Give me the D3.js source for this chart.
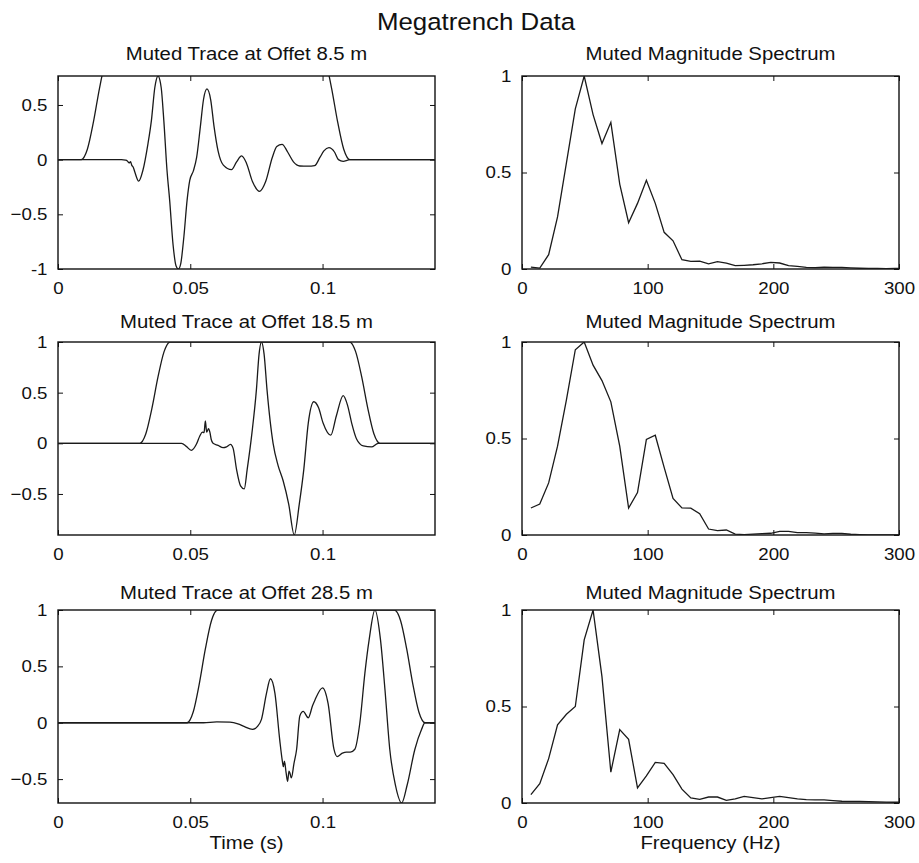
<!DOCTYPE html>
<html>
<head>
<meta charset="utf-8">
<script src="https://cdn.jsdelivr.net/npm/d3@7"></script>
<style>
  body { margin: 0; background: #fff; }
  svg { display: block; }
  text { font-family: "Liberation Sans", Arial, Helvetica, sans-serif; fill: #111; }
  .box { fill: none; stroke: #111; stroke-width: 1.4; }
  .tick line { stroke: #111; stroke-width: 1; }
  .trace { fill: none; stroke: #1a1a1a; stroke-width: 1.3; }
</style>
</head>
<body>
<div id="chart"></div>
<script>
// ---- data ----
var mainTitle = "Megatrench Data";
var traceTitles = ["Muted Trace at Offet 8.5 m", "Muted Trace at Offet 18.5 m", "Muted Trace at Offet 28.5 m"];
var specTitle = "Muted Magnitude Spectrum";

var timeTicks = [0, 0.05, 0.1];
var freqTicks = [0, 100, 200, 300];
var specYTicks = [0, 0.5, 1];
var traceYTicks = [[-1, -0.5, 0, 0.5], [-0.5, 0, 0.5, 1], [-0.5, 0, 0.5, 1]];
var traceYRange = [[-1, 0.765], [-0.905, 1], [-0.712, 1]];
var timeRange = [0, 0.1425];

// muted traces [time (s), amplitude]
var trace1 = [[0,0],[0.024,0],[0.0255,-0.005],[0.0262,-0.012],[0.0269,-0.03],[0.0274,-0.018],[0.0279,-0.052],
  [0.0284,-0.067],[0.029,-0.11],[0.0305,-0.197],[0.0321,-0.097],[0.034,0.145],[0.0353,0.357],[0.0366,0.66],
  [0.0378,0.765],[0.039,0.66],[0.04,0.357],[0.0412,-0.097],[0.0422,-0.37],[0.0435,-0.78],[0.0446,-0.97],
  [0.0455,-1.0],[0.0464,-0.95],[0.0476,-0.7],[0.0488,-0.37],[0.0498,-0.19],[0.0512,-0.1],[0.0524,0.02],
  [0.0538,0.3],[0.055,0.55],[0.0563,0.647],[0.0577,0.55],[0.059,0.3],[0.0605,0.08],[0.0625,-0.05],
  [0.0656,-0.091],[0.0675,-0.02],[0.0694,0.034],[0.0712,-0.03],[0.0735,-0.2],[0.0762,-0.29],[0.0785,-0.2],
  [0.081,0.02],[0.0827,0.12],[0.0847,0.14],[0.0868,0.07],[0.089,-0.02],[0.0914,-0.058],[0.0945,-0.06],
  [0.097,-0.055],[0.099,0.02],[0.1005,0.08],[0.1024,0.11],[0.1045,0.07],[0.106,0],[0.1078,-0.015],
  [0.1095,-0.005],[0.1103,0],[0.1425,0]];
var trace2 = [[0,0],[0.0467,0],[0.0485,-0.03],[0.0504,-0.07],[0.0523,-0.01],[0.0536,0.072],[0.0546,0.11],
  [0.0552,0.105],[0.0557,0.22],[0.0562,0.11],[0.0569,0.145],[0.0574,0.11],[0.0579,0.04],[0.0586,0],
  [0.0605,-0.02],[0.0624,-0.043],[0.0637,-0.035],[0.0652,-0.01],[0.0662,-0.05],[0.0675,-0.26],[0.069,-0.42],
  [0.0704,-0.45],[0.0715,-0.26],[0.0733,0.1],[0.075,0.53],[0.076,0.88],[0.0769,1.0],[0.0779,0.88],
  [0.079,0.53],[0.0813,0],[0.0832,-0.22],[0.0851,-0.37],[0.0872,-0.6],[0.0893,-0.905],[0.0912,-0.6],
  [0.0929,-0.26],[0.0946,0.2],[0.0967,0.41],[0.0985,0.35],[0.1002,0.2],[0.1031,0.08],[0.1052,0.27],
  [0.1078,0.47],[0.1095,0.37],[0.111,0.2],[0.1129,0.04],[0.1154,-0.026],[0.1185,-0.036],[0.121,0],[0.1425,0]];
var trace3 = [[0,0],[0.055,0],[0.06,0.008],[0.065,0.005],[0.068,-0.01],[0.0705,-0.035],[0.0735,-0.059],
  [0.0755,-0.03],[0.0769,0.03],[0.0788,0.26],[0.0803,0.39],[0.082,0.26],[0.0838,-0.15],[0.0848,-0.34],
  [0.0852,-0.39],[0.0856,-0.34],[0.0862,-0.44],[0.0868,-0.52],[0.0873,-0.43],[0.0877,-0.45],[0.0882,-0.49],
  [0.0892,-0.36],[0.0902,-0.235],[0.0914,0.06],[0.0927,0.1],[0.0946,0.044],[0.0962,0.15],[0.0971,0.2],
  [0.1,0.31],[0.1021,0.17],[0.1043,-0.235],[0.1055,-0.3],[0.1075,-0.27],[0.109,-0.26],[0.1105,-0.26],
  [0.1122,-0.235],[0.1141,0],[0.116,0.44],[0.1176,0.735],[0.1198,1.0],[0.1219,0.735],[0.1236,0.29],
  [0.1254,-0.235],[0.1275,-0.55],[0.1299,-0.712],[0.132,-0.55],[0.1349,-0.235],[0.1374,-0.06],[0.1387,0],[0.1425,0]];

// mute tapers drawn over each trace
var mute1 = [[0,0],[0.0088,0],[0.0111,0.095],[0.0134,0.345],[0.0157,0.655],[0.018,0.905],[0.0203,1],
  [0.0988,1],[0.1011,0.905],[0.1034,0.655],[0.1057,0.345],[0.108,0.095],[0.1103,0],[0.1425,0]];
var mute2 = [[0,0],[0.0309,0],[0.0332,0.095],[0.0355,0.345],[0.0378,0.655],[0.0401,0.905],[0.0424,1],
  [0.1102,1],[0.1125,0.905],[0.1148,0.655],[0.1171,0.345],[0.1194,0.095],[0.1217,0],[0.1425,0]];
var mute3 = [[0,0],[0.0488,0],[0.0511,0.095],[0.0534,0.345],[0.0557,0.655],[0.058,0.905],[0.0603,1],
  [0.1272,1],[0.1295,0.905],[0.1318,0.655],[0.1341,0.345],[0.1364,0.095],[0.1387,0],[0.1425,0]];

// magnitude spectra
var freqs = [7.07,14.14,21.21,28.28,35.35,42.42,49.49,56.56,63.63,70.7,77.77,84.84,91.91,98.98,106.05,
  113.12,120.19,127.26,134.33,141.4,148.47,155.54,162.61,169.68,176.75,183.82,190.89,197.96,205.03,212.1,
  219.17,226.24,233.31,240.38,247.45,254.52,261.59,268.66,275.73,282.8,289.87,296.94,304.01];
var spec1 = [0.01,0.005,0.074,0.27,0.55,0.83,1.0,0.8,0.65,0.76,0.44,0.24,0.34,0.46,0.34,0.19,0.146,0.048,
  0.04,0.041,0.027,0.038,0.031,0.017,0.019,0.022,0.027,0.034,0.031,0.017,0.014,0.008,0.007,0.009,0.008,
  0.008,0.006,0.004,0.003,0.003,0.002,0.003,0.003];
var spec2 = [0.14,0.16,0.27,0.46,0.7,0.96,1.0,0.88,0.8,0.69,0.46,0.14,0.22,0.495,0.517,0.35,0.19,0.14,
  0.139,0.11,0.031,0.023,0.026,0.005,0.002,0.005,0.007,0.009,0.019,0.019,0.012,0.012,0.01,0.006,0.008,
  0.008,0.004,0.002,0.001,0.001,0.001,0.001,0.001];
var spec3 = [0.043,0.1,0.23,0.405,0.46,0.5,0.845,1.0,0.655,0.16,0.38,0.33,0.078,0.14,0.21,0.205,0.147,
  0.072,0.026,0.019,0.031,0.031,0.014,0.021,0.034,0.028,0.021,0.028,0.034,0.028,0.021,0.017,0.016,0.016,
  0.012,0.009,0.008,0.008,0.007,0.006,0.005,0.004,0.006];

var traces = [trace1, trace2, trace3];
var mutes = [mute1, mute2, mute3];
var specs = [spec1, spec2, spec3];

// ---- layout ----
var W = 919, H = 863;
var colLeft = [58, 522], plotW = 377, plotH = 193;
var rowTop = [76, 342, 610];
var titleBase = [60, 328, 599];
var tick = 5;

var svg = d3.select("#chart").append("svg")
    .attr("width", W)
    .attr("height", H);

svg.append("rect").attr("width", W).attr("height", H).attr("fill", "#fff");

function fmt(d) {
  if (d === -1) return "-1";
  if (d < 0) return "\u2212" + (-d);
  return String(d);
}

function panel(id, left, top, xDom, yDom, xTicks, yTicks, title, tb) {
  var g = svg.append("g").attr("transform", "translate(" + left + "," + top + ")");
  var x = d3.scaleLinear().domain(xDom).range([0, plotW]);
  var y = d3.scaleLinear().domain(yDom).range([plotH, 0]);

  g.append("clipPath").attr("id", "clip" + id)
    .append("rect").attr("width", plotW).attr("height", plotH);

  g.append("g").attr("transform", "translate(0," + plotH + ")")
    .call(d3.axisBottom(x).tickValues(xTicks).tickSizeInner(-tick).tickSizeOuter(0).tickPadding(12.5).tickFormat(fmt))
    .call(function(a){ a.select(".domain").remove(); a.selectAll("text").style("font-size", "17px").attr("fill", "#111"); });
  g.append("g")
    .call(d3.axisTop(x).tickValues(xTicks).tickSizeInner(-tick).tickSizeOuter(0).tickFormat(""))
    .call(function(a){ a.select(".domain").remove(); });
  g.append("g")
    .call(d3.axisLeft(y).tickValues(yTicks).tickSizeInner(-tick).tickSizeOuter(0).tickPadding(10.5).tickFormat(fmt))
    .call(function(a){ a.select(".domain").remove(); a.selectAll("text").style("font-size", "17px").attr("fill", "#111"); });
  g.append("g").attr("transform", "translate(" + plotW + ",0)")
    .call(d3.axisRight(y).tickValues(yTicks).tickSizeInner(-tick).tickSizeOuter(0).tickFormat(""))
    .call(function(a){ a.select(".domain").remove(); });

  g.append("rect").attr("class", "box").attr("width", plotW).attr("height", plotH);

  svg.append("text")
    .attr("x", left + plotW / 2)
    .attr("y", tb)
    .attr("text-anchor", "middle")
    .style("font-size", "18.5px")
    .text(title);

  return { g: g, x: x, y: y, clip: "url(#clip" + id + ")" };
}

for (var i = 0; i < 3; i++) {
  // left column: muted traces
  var p = panel("t" + i, colLeft[0], rowTop[i], timeRange, traceYRange[i], timeTicks, traceYTicks[i], traceTitles[i], titleBase[i]);
  var line = d3.line()
    .x(function(d){ return p.x(d[0]); })
    .y(function(d){ return p.y(d[1]); })
    .curve(d3.curveMonotoneX);
  p.g.append("path").attr("class", "trace").attr("clip-path", p.clip).attr("d", line(mutes[i]));
  p.g.append("path").attr("class", "trace").attr("clip-path", p.clip).attr("d", line(traces[i]));

  // right column: spectra
  var q = panel("s" + i, colLeft[1], rowTop[i], [0, 300], [0, 1], freqTicks, specYTicks, specTitle, titleBase[i]);
  var sline = d3.line()
    .x(function(d, j){ return q.x(freqs[j]); })
    .y(function(d){ return q.y(d); });
  q.g.append("path").attr("class", "trace").attr("clip-path", q.clip).attr("d", sline(specs[i]));
}

svg.append("text")
  .attr("x", 476).attr("y", 30.5)
  .attr("text-anchor", "middle")
  .style("font-size", "23.5px")
  .text(mainTitle);

svg.append("text")
  .attr("x", colLeft[0] + plotW / 2).attr("y", 849)
  .attr("text-anchor", "middle")
  .style("font-size", "18.5px")
  .text("Time (s)");

svg.append("text")
  .attr("x", colLeft[1] + plotW / 2).attr("y", 849)
  .attr("text-anchor", "middle")
  .style("font-size", "18.5px")
  .text("Frequency (Hz)");

// the original type is a little wider than Liberation Sans, stretch it about its anchor
svg.selectAll("text").each(function() {
  var t = d3.select(this);
  var tx = +t.attr("x") || 0, ty = +t.attr("y") || 0;
  t.attr("transform", "translate(" + tx + "," + ty + ") scale(1.1,1) translate(" + (-tx) + "," + (-ty) + ")");
});
</script>
</body>
</html>
